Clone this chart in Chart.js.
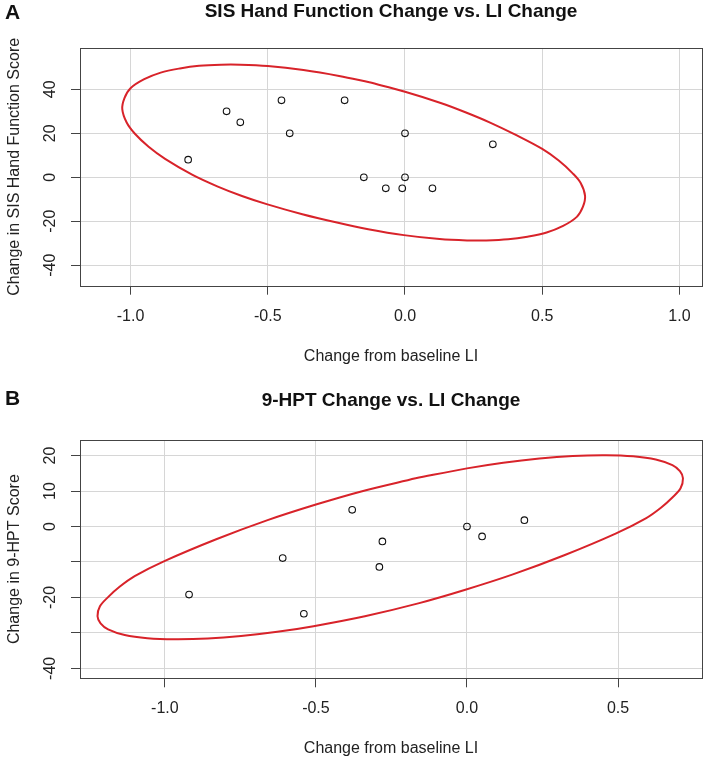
<!DOCTYPE html>
<html>
<head>
<meta charset="utf-8">
<script src="https://cdn.jsdelivr.net/npm/chart.js@4/dist/chart.umd.min.js"></script>
<style>
  body { margin: 0; background: #fff; overflow: hidden; }
  .panel { position: absolute; left: 0; width: 708px; }
</style>
</head>
<body>
<div class="panel" style="top:0;height:380px"><canvas id="sisChart"></canvas></div>
<div class="panel" style="top:380px;height:387px"><canvas id="hptChart"></canvas></div>
<script>
// Panel A: SIS hand function change vs LI change
const sisLI    = [-0.79, -0.65, -0.60, -0.45, -0.42, -0.22, 0.00, 0.32, -0.15, 0.00, -0.07, -0.01, 0.10];
const sisScore = [8, 30, 25, 35, 20, 35, 20, 15, 0, 0, -5, -5, -5];
// outline of the red ellipse (closed loop)
const sisEllipseX = [-0.13, 0.00, 0.13, 0.22, 0.31, 0.40, 0.50, 0.56, 0.61, 0.64, 0.656, 0.648, 0.626, 0.576, 0.516, 0.446, 0.376, 0.296, 0.226, 0.126, -0.004, -0.134, -0.244, -0.374, -0.504, -0.594, -0.684, -0.774, -0.874, -0.934, -0.984, -1.014, -1.03, -1.022, -1.00, -0.95, -0.89, -0.82, -0.75, -0.67, -0.60, -0.50, -0.37, -0.24, -0.13];
const sisEllipseY = [43.2, 38.9, 33.8, 29.6, 24.9, 19.5, 12.9, 7.6, 1.9, -2.6, -8.5, -13.5, -18.0, -22.1, -25.1, -27.0, -28.2, -28.7, -28.7, -28.1, -26.3, -23.6, -20.7, -16.8, -12.2, -8.5, -4.1, 1.1, 8.4, 13.9, 19.8, 24.9, 31.0, 36.0, 40.5, 44.6, 47.6, 49.5, 50.7, 51.2, 51.2, 50.6, 48.8, 46.1, 43.2];
const sisXTicks = [-1, -0.5, 0, 0.5, 1];
const sisXTickLabels = ['-1.0', '-0.5', '0.0', '0.5', '1.0'];
const sisYTicks = [-40, -20, 0, 20, 40];
const sisYTickLabels = ['-40', '-20', '0', '20', '40'];

// Panel B: 9-HPT change vs LI change
const hptLI    = [-0.92, -0.61, -0.54, -0.38, -0.28, -0.29, 0.00, 0.05, 0.19];
const hptScore = [-19.2, -8.9, -24.6, 4.7, -4.2, -11.4, 0, -2.8, 1.8];
const hptEllipseX = [-0.17, 0.00, 0.12, 0.24, 0.35, 0.46, 0.55, 0.625, 0.68, 0.705, 0.715, 0.707, 0.68, 0.642, 0.592, 0.492, 0.322, 0.152, -0.008, -0.158, -0.338, -0.508, -0.628, -0.748, -0.858, -0.968, -1.058, -1.133, -1.188, -1.213, -1.223, -1.215, -1.188, -1.15, -1.10, -1.00, -0.83, -0.66, -0.50, -0.35, -0.17];
const hptEllipseY = [13.6, 16.4, 18.0, 19.2, 19.9, 20.1, 19.8, 18.9, 17.3, 15.6, 13.6, 10.8, 8.2, 5.3, 2.3, -2.0, -8.1, -13.5, -17.9, -21.6, -25.3, -28.1, -29.7, -30.9, -31.6, -31.8, -31.5, -30.6, -29.0, -27.3, -25.3, -22.5, -19.9, -17.0, -14.0, -9.7, -3.6, 1.8, 6.2, 9.9, 13.6];
const hptXTicks = [-1, -0.5, 0, 0.5];
const hptXTickLabels = ['-1.0', '-0.5', '0.0', '0.5'];
const hptYTicks = [-40, -30, -20, -10, 0, 10, 20];
const hptYTickLabels = ['-40', '', '-20', '', '0', '10', '20'];

const FONT = '"Liberation Sans", Arial, sans-serif';
const toPoints = (xs, ys) => xs.map((x, i) => ({ x: x, y: ys[i] }));

// draws the box, title, panel letter and the rotated y tick labels (R style)
const decor = {
  id: 'decor',
  afterDraw(chart, args, o) {
    const { ctx, chartArea: a, scales } = chart;
    ctx.save();
    ctx.strokeStyle = '#444';
    ctx.lineWidth = 1;
    ctx.strokeRect(Math.round(a.left) + 0.5, Math.round(a.top) + 0.5,
      Math.round(a.right - a.left), Math.round(a.bottom - a.top));

    ctx.fillStyle = '#111';
    ctx.textBaseline = 'middle';
    ctx.font = 'bold 19px ' + FONT;
    ctx.textAlign = 'center';
    ctx.fillText(o.title, (a.left + a.right) / 2, o.titleY);
    ctx.font = 'bold 21px ' + FONT;
    ctx.textAlign = 'left';
    ctx.fillText(o.letter, 5, o.letterY);

    ctx.font = '16px ' + FONT;
    ctx.textAlign = 'center';
    ctx.fillStyle = '#222';
    scales.y.ticks.forEach((t, i) => {
      const label = o.yLabels[i];
      if (!label) return;
      ctx.save();
      ctx.translate(51, scales.y.getPixelForValue(t.value));
      ctx.rotate(-Math.PI / 2);
      ctx.fillText(label, 0, 0);
      ctx.restore();
    });
    ctx.restore();
  }
};

function makePanel(id, p) {
  return new Chart(document.getElementById(id).getContext('2d'), {
    type: 'scatter',
    data: {
      datasets: [{
        data: toPoints(p.ex, p.ey),
        showLine: true,
        borderColor: '#d8232a',
        borderWidth: 2,
        tension: 0.35,
        pointRadius: 0,
        fill: false
      }, {
        data: toPoints(p.px, p.py),
        pointStyle: 'circle',
        pointRadius: 3.3,
        borderWidth: 1.1,
        borderColor: '#111',
        backgroundColor: 'rgba(0,0,0,0)'
      }]
    },
    options: {
      responsive: true,
      maintainAspectRatio: false,
      animation: false,
      layout: { padding: { top: p.top, right: 6, bottom: 0, left: 0 } },
      plugins: {
        legend: { display: false },
        tooltip: { enabled: false },
        decor: { title: p.title, titleY: p.titleY, letter: p.letter, letterY: p.letterY, yLabels: p.yLabels }
      },
      scales: {
        x: {
          type: 'linear',
          min: p.xMin,
          max: p.xMax,
          afterBuildTicks: s => { s.ticks = p.xTicks.map(v => ({ value: v })); },
          afterFit: s => { s.height = p.xHeight; },
          ticks: {
            autoSkip: false,
            maxRotation: 0,
            padding: 12,
            color: '#222',
            font: { family: FONT, size: 16 },
            callback: (v, i) => p.xLabels[i]
          },
          grid: { color: '#d6d6d6', tickColor: '#444', tickLength: 9 },
          border: { display: false },
          title: {
            display: true,
            text: 'Change from baseline LI',
            color: '#222',
            font: { family: FONT, size: 16 },
            padding: { top: 0, bottom: p.xTitlePad }
          }
        },
        y: {
          type: 'linear',
          min: p.yMin,
          max: p.yMax,
          afterBuildTicks: s => { s.ticks = p.yTicks.map(v => ({ value: v })); },
          afterFit: s => { s.width = 80; },
          ticks: { display: false },
          grid: { color: '#d6d6d6', tickColor: '#444', tickLength: 9 },
          border: { display: false },
          title: {
            display: true,
            text: p.yTitle,
            color: '#222',
            font: { family: FONT, size: 16 },
            padding: { top: 5, bottom: 0 }
          }
        }
      }
    },
    plugins: [decor]
  });
}

makePanel('sisChart', {
  px: sisLI, py: sisScore, ex: sisEllipseX, ey: sisEllipseY,
  xTicks: sisXTicks, xLabels: sisXTickLabels, yTicks: sisYTicks, yLabels: sisYTickLabels,
  xMin: -1.184, xMax: 1.082, yMin: -49.3, yMax: 58.8,
  top: 48, xHeight: 94.3, xTitlePad: 14,
  title: 'SIS Hand Function Change vs. LI Change', titleY: 12, letter: 'A', letterY: 13,
  yTitle: 'Change in SIS Hand Function Score'
});

makePanel('hptChart', {
  px: hptLI, py: hptScore, ex: hptEllipseX, ey: hptEllipseY,
  xTicks: hptXTicks, xLabels: hptXTickLabels, yTicks: hptYTicks, yLabels: hptYTickLabels,
  xMin: -1.281, xMax: 0.778, yMin: -42.8, yMax: 24.4,
  top: 60, xHeight: 88.7, xTitlePad: 8.7,
  title: '9-HPT Change vs. LI Change', titleY: 21, letter: 'B', letterY: 19,
  yTitle: 'Change in 9-HPT Score'
});
</script>
</body>
</html>
